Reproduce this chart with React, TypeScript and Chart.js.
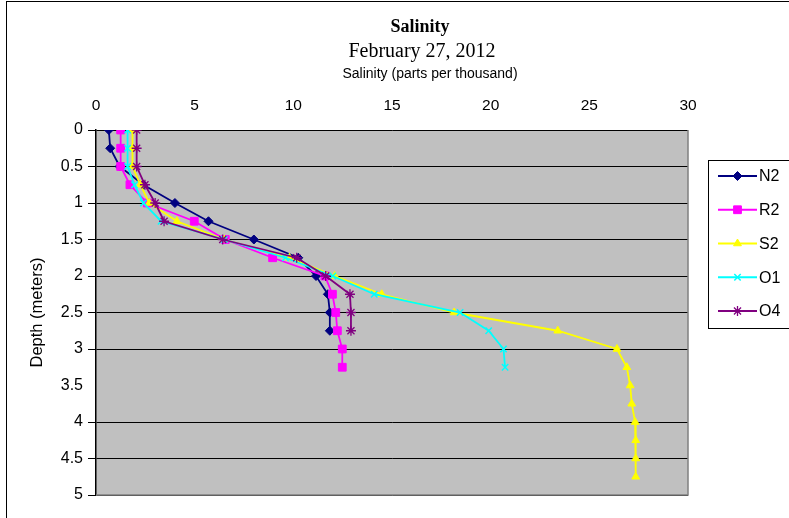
import React, { useEffect, useRef } from "react";
import { Chart, registerables } from "chart.js";
import { drawPoint } from "chart.js/helpers";

Chart.register(...registerables);

const depths = [0, 0.25, 0.5, 0.75, 1, 1.25, 1.5, 1.75, 2, 2.25, 2.5, 2.75, 3, 3.25, 3.5, 3.75, 4, 4.25, 4.5, 4.75];

const seriesNames = ["N2", "R2", "S2", "O1", "O4"];
const n2 = [0.65, 0.72, 1.2, 2.4, 4.0, 5.7, 8.0, 10.25, 11.15, 11.75, 11.85, 11.85];
const r2 = [1.25, 1.25, 1.25, 1.72, 2.6, 4.98, 6.55, 8.95, 11.6, 11.98, 12.15, 12.23, 12.48, 12.48];
const s2 = [1.85, 1.85, 1.85, 2.25, 2.7, 4.1, 6.5, 9.8, 12.1, 14.48, 18.15, 23.4, 26.4, 26.9, 27.07, 27.15, 27.32, 27.35, 27.35, 27.35];
const o1 = [1.6, 1.6, 1.6, 1.95, 2.4, 3.3, 6.5, 9.6, 12.0, 14.1, 18.45, 19.9, 20.65, 20.73];
const o4 = [2.06, 2.06, 2.06, 2.48, 3.0, 3.45, 6.42, 10.17, 11.64, 12.87, 12.92, 12.92];

const xTicks = { min: 0, max: 30, step: 5 };
const yTicks = { min: 0, max: 5, step: 0.5 };

const titleText = "Salinity";
const subtitleText = "February 27, 2012";
const xAxisTitle = "Salinity (parts per thousand)";
const yAxisTitle = "Depth (meters)";

const styles = [
  { color: "#000080", pointStyle: "rectRot", radius: 4.5, bw: 1 },
  { color: "#FF00FF", pointStyle: "rect", radius: 5.5, bw: 1 },
  { color: "#FFFF00", pointStyle: "triangle", radius: 4.5, bw: 1 },
  { color: "#00FFFF", pointStyle: "crossRot", radius: 4.5, bw: 1.5 },
  { color: "#800080", pointStyle: "star", radius: 5, bw: 1.3 },
];

const SANS = "'Liberation Sans', Arial, sans-serif";
const SERIF = "'Liberation Serif', 'Times New Roman', serif";

export default function App() {
  const ref = useRef<HTMLCanvasElement | null>(null);

  useEffect(() => {
    if (!ref.current) return;
    const values = [n2, r2, s2, o1, o4];
    const datasets = values.map((vals, i) => ({
      label: seriesNames[i],
      data: vals.map((v, j) => ({ x: v, y: depths[j] })),
      borderColor: styles[i].color,
      backgroundColor: styles[i].color,
      pointBackgroundColor: styles[i].color,
      pointBorderColor: styles[i].color,
      pointStyle: styles[i].pointStyle,
      pointRadius: styles[i].radius,
      pointBorderWidth: styles[i].bw,
      borderWidth: 1.8,
      tension: 0,
      fill: false,
      order: values.length - i,
    }));

    const bgPlugin = {
      id: "bgPlugin",
      beforeDraw(chart: any) {
        const { ctx, chartArea: a } = chart;
        ctx.save();
        ctx.fillStyle = "#ffffff";
        ctx.fillRect(0, 0, chart.width, chart.height);
        ctx.fillStyle = "#c0c0c0";
        ctx.fillRect(a.left, a.top, a.right - a.left, a.bottom - a.top);
        ctx.restore();
      },
      beforeDatasetsDraw(chart: any) {
        const { ctx, chartArea: a } = chart;
        ctx.save();
        ctx.strokeStyle = "#808080";
        ctx.lineWidth = 1.5;
        ctx.beginPath();
        ctx.moveTo(a.right, a.top);
        ctx.lineTo(a.right, a.bottom);
        ctx.lineTo(a.left, a.bottom);
        ctx.stroke();
        ctx.restore();
      },
      afterDraw(chart: any) {
        const { ctx } = chart;
        ctx.save();
        // outer border
        ctx.strokeStyle = "#000";
        ctx.lineWidth = 1;
        ctx.strokeRect(6.5, 1.5, 800, 530);
        // titles
        ctx.fillStyle = "#000";
        ctx.textAlign = "center";
        ctx.textBaseline = "middle";
        ctx.font = `bold 18px ${SERIF}`;
        ctx.fillText(titleText, 420, 27);
        ctx.font = `20px ${SERIF}`;
        ctx.fillText(subtitleText, 422, 52);
        ctx.font = `14px ${SANS}`;
        ctx.fillText(xAxisTitle, 430, 74);
        // legend
        const lx = 708, ly = 160, lb = 328;
        ctx.strokeStyle = "#000";
        ctx.lineWidth = 1;
        ctx.strokeRect(lx + 0.5, ly + 0.5, 200, lb - ly);
        chart.data.datasets.forEach((ds: any, i: number) => {
          const y = 176 + i * 33.75;
          ctx.strokeStyle = ds.borderColor;
          ctx.lineWidth = 1.8;
          ctx.beginPath();
          ctx.moveTo(718, y);
          ctx.lineTo(757, y);
          ctx.stroke();
          ctx.fillStyle = ds.pointBackgroundColor;
          ctx.strokeStyle = ds.pointBorderColor;
          ctx.lineWidth = ds.pointBorderWidth;
          drawPoint(ctx, { pointStyle: ds.pointStyle, radius: ds.pointRadius, rotation: 0, borderWidth: ds.pointBorderWidth }, 737.5, y);
          ctx.fillStyle = "#000";
          ctx.textAlign = "left";
          ctx.font = `16px ${SANS}`;
          ctx.fillText(ds.label, 759, y + 1);
        });
        ctx.restore();
      },
    };

    const chart = new Chart(ref.current, {
      type: "line",
      data: { datasets: datasets as any },
      plugins: [bgPlugin],
      options: {
        animation: false,
        responsive: false,
        layout: { padding: { left: 0, top: 0, right: 101, bottom: 23 } },
        plugins: {
          legend: { display: false },
          title: { display: false },
          tooltip: { enabled: false },
        },
        scales: {
          x: {
            type: "linear",
            position: "top",
            min: xTicks.min,
            max: xTicks.max,
            ticks: {
              stepSize: xTicks.step,
              color: "#000",
              font: { family: SANS, size: 15.5 },
              padding: 15,
              maxRotation: 0,
              callback: (v: any) => String(v),
            },
            grid: { display: false, drawTicks: false },
            border: { display: false },
            afterFit(scale: any) {
              scale.height = 130;
            },
          },
          y: {
            type: "linear",
            reverse: true,
            min: yTicks.min,
            max: yTicks.max,
            ticks: {
              stepSize: yTicks.step,
              color: "#000",
              font: { family: SANS, size: 16 },
              padding: 5,
              callback: (v: any) => String(v),
            },
            grid: {
              color: (c: any) => (c.tick && c.tick.value === 3.5 ? "rgba(0,0,0,0)" : "#000"),
              lineWidth: 1,
              tickLength: 8,
              drawTicks: true,
            },
            border: { display: true, color: "#000", width: 1.5 },
            title: {
              display: true,
              text: yAxisTitle,
              color: "#000",
              font: { family: SANS, size: 16.5 },
              padding: 28,
            },
            afterFit(scale: any) {
              scale.width = 96;
            },
          },
        },
      } as any,
    });
    return () => chart.destroy();
  }, []);

  return (
    <div style={{ position: "fixed", left: 0, top: 0, width: 789, height: 518, background: "#fff" }}>
      <canvas ref={ref} width={789} height={518} style={{ width: 789, height: 518, display: "block" }} />
    </div>
  );
}
